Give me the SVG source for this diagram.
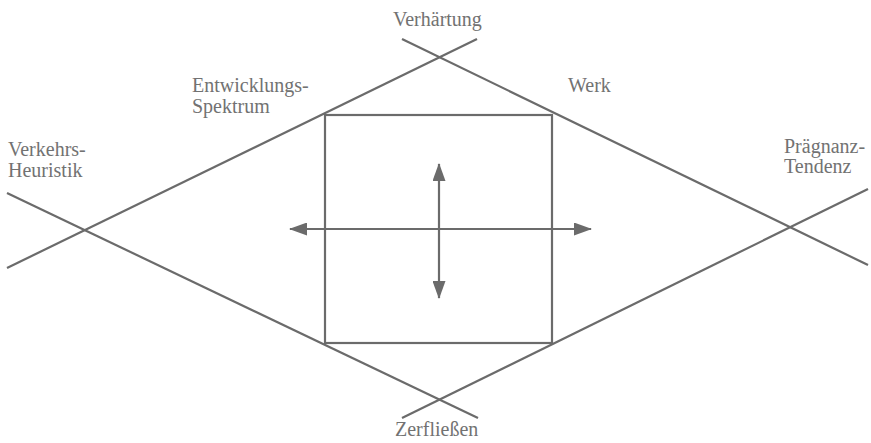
<svg xmlns="http://www.w3.org/2000/svg" width="871" height="443" viewBox="0 0 871 443">
<style>
.ln{stroke:#6b6b6b;stroke-width:2.2;fill:none;stroke-linecap:butt}
.lbl{font-family:"Liberation Serif","Times New Roman",serif;font-size:20px;fill:#727272}
</style>
<defs>
<marker id="ah" viewBox="0 0 18 13" refX="17" refY="6.5" markerWidth="18" markerHeight="13" markerUnits="userSpaceOnUse" orient="auto-start-reverse">
<path d="M0,0 L18,6.5 L0,13 Z" fill="#6b6b6b"/>
</marker>
</defs>
<rect width="871" height="443" fill="#ffffff"/>
<g id="connectors">
<line class="ln" x1="7" y1="268" x2="477" y2="39"/>
<line class="ln" x1="402" y1="39" x2="868" y2="265"/>
<line class="ln" x1="7" y1="193" x2="478" y2="418"/>
<line class="ln" x1="402" y1="418" x2="868" y2="189"/>
<line class="ln" x1="290" y1="229" x2="591" y2="229" marker-start="url(#ah)" marker-end="url(#ah)"/>
<line class="ln" x1="439" y1="164" x2="439" y2="298" marker-start="url(#ah)" marker-end="url(#ah)"/>
</g>
<g id="werk-box">
<rect class="ln" x="325" y="115" width="227" height="228"/>
</g>
<g id="verhaertung"><text class="lbl" x="393" y="26">Verhärtung</text></g>
<g id="entwicklungs-spektrum"><text class="lbl" x="192" y="92">Entwicklungs-</text><text class="lbl" x="192" y="113">Spektrum</text></g>
<g id="werk"><text class="lbl" x="568" y="92">Werk</text></g>
<g id="verkehrs-heuristik"><text class="lbl" x="8" y="156">Verkehrs-</text><text class="lbl" x="8" y="177">Heuristik</text></g>
<g id="praegnanz-tendenz"><text class="lbl" x="784" y="153">Prägnanz-</text><text class="lbl" x="784" y="173">Tendenz</text></g>
<g id="zerfliessen"><text class="lbl" x="395" y="436">Zerfließen</text></g>
</svg>
